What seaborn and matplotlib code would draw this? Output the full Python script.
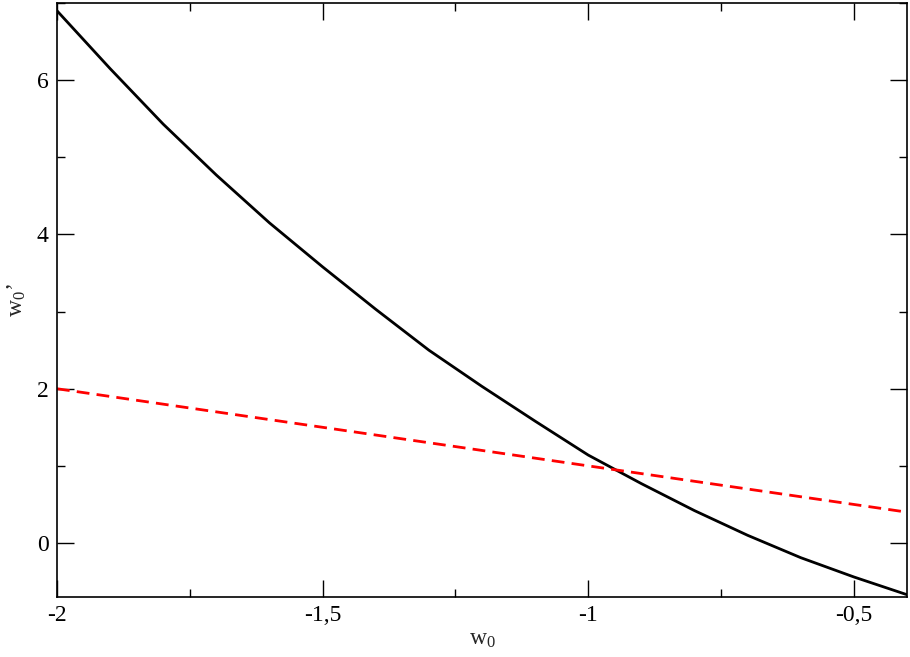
import numpy as np
import pandas as pd
import matplotlib
matplotlib.use('Agg')
import matplotlib.pyplot as plt
from matplotlib.ticker import MultipleLocator, FuncFormatter
import seaborn as sns

# ===== DATA =====
w0 = [-2.0, -1.9, -1.8, -1.7, -1.6, -1.5, -1.4, -1.3, -1.2,
      -1.1, -1.0, -0.9, -0.8, -0.7, -0.6, -0.5, -0.4]
w0_prime = [6.90, 6.15, 5.43, 4.77, 4.15, 3.58, 3.03, 2.50, 2.03,
            1.58, 1.14, 0.77, 0.42, 0.10, -0.19, -0.44, -0.67]
diag_x = [-2.0, -0.4]
diag_y = [2.0, 0.4]

sns.set_style('ticks')
plt.rcParams['font.family'] = ['Liberation Serif', 'DejaVu Serif']
plt.rcParams['mathtext.fontset'] = 'custom'
plt.rcParams['mathtext.rm'] = 'Liberation Serif'
plt.rcParams['mathtext.it'] = 'Liberation Serif:italic'


def comma_fmt(v, pos):
    return f'{v:g}'.replace('.', ',')


fig = plt.figure(figsize=(9.1, 6.57), dpi=100)
ax = fig.add_axes([0.0626, 0.0913, 0.9341, 0.9041])

curve = pd.DataFrame({'w0': w0, 'w0p': w0_prime})
line = pd.DataFrame({'w0': diag_x, 'w0p': diag_y})

sns.lineplot(data=curve, x='w0', y='w0p', color='black', linewidth=2.0, ax=ax)
sns.lineplot(data=line, x='w0', y='w0p', color='#ff0000', linewidth=2.0,
             ax=ax, dashes=False)
ax.lines[-1].set_dashes([4.6, 2.6])

ax.set_xlim(-2.0, -0.4)
ax.set_ylim(-0.7, 7.0)

ax.xaxis.set_major_locator(MultipleLocator(0.5))
ax.xaxis.set_minor_locator(MultipleLocator(0.25))
ax.yaxis.set_major_locator(MultipleLocator(2))
ax.yaxis.set_minor_locator(MultipleLocator(1))
ax.xaxis.set_major_formatter(FuncFormatter(comma_fmt))
ax.yaxis.set_major_formatter(FuncFormatter(comma_fmt))

ax.tick_params(which='both', direction='in', top=True, right=True,
               width=1.0, labelsize=17, colors='black')
ax.tick_params(which='major', length=12, pad=6)
ax.tick_params(which='minor', length=6)
for s in ax.spines.values():
    s.set_linewidth(1.2)
    s.set_color('black')

ax.set_xlabel(r'w$_0$', fontsize=17, labelpad=2)
ax.set_ylabel("w$_0$\u2019", fontsize=17, labelpad=6)

fig.savefig('out.png', dpi=100)
